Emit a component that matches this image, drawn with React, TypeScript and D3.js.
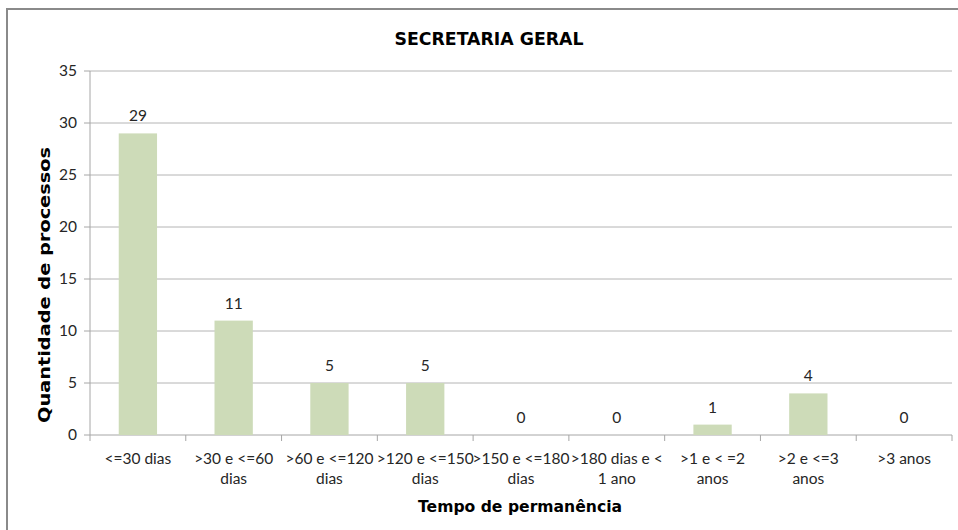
import React from "react";
import * as d3 from "d3";

const categories: string[][] = [
  ["<=30 dias"],
  [">30 e <=60", "dias"],
  [">60 e <=120", "dias"],
  [">120 e <=150", "dias"],
  [">150 e <=180", "dias"],
  [">180 dias e <", "1 ano"],
  [">1 e < =2", "anos"],
  [">2 e <=3", "anos"],
  [">3 anos"],
];
const values: number[] = [29, 11, 5, 5, 0, 0, 1, 4, 0];
const yTicks: number[] = [0, 5, 10, 15, 20, 25, 30, 35];
const title = "SECRETARIA GERAL";
const yTitle = "Quantidade de processos";
const xTitle = "Tempo de permanência";

const W = 958;
const H = 530;
const left = 90;
const right = 952;
const top = 71;
const bottom = 435;

export default function App() {
  const keys = categories.map((_, i) => String(i));
  const x = d3.scaleBand<string>().domain(keys).range([left, right]).paddingInner(0.6).paddingOuter(0.3);
  const xb = d3.scaleBand<string>().domain(keys).range([left, right]);
  const y = d3.scaleLinear().domain([0, 35]).range([bottom, top]);
  const labelFont = "Lato, 'Open Sans', sans-serif";
  const titleFont = "'DejaVu Sans', sans-serif";
  return (
    <svg width={W} height={H} style={{ position: "absolute", left: 0, top: 0, background: "#fff" }}>
      <rect x={7} y={9} width={W} height={H} fill="#fff" stroke="#8a8a8a" strokeWidth={2} />
      <text x={489} y={45} textAnchor="middle" fontFamily={titleFont} fontWeight="bold" fontSize={17} textLength={189} lengthAdjust="spacingAndGlyphs">{title}</text>
      {yTicks.map((t) => (
        <g key={t}>
          <line x1={left} x2={right} y1={y(t)} y2={y(t)} stroke={t === 0 ? "#a6a6a6" : "#b4b4b4"} strokeWidth={1} />
          <line x1={left - 6} x2={left} y1={y(t)} y2={y(t)} stroke="#a6a6a6" />
          <text x={77} y={y(t) + 5} textAnchor="end" fontFamily={labelFont} fontSize={15.5} fill="#262626">{t}</text>
        </g>
      ))}
      <line x1={left} x2={left} y1={top} y2={bottom} stroke="#a6a6a6" />
      {keys.map((k) => (
        <line key={"t" + k} x1={xb(k)!} x2={xb(k)!} y1={bottom} y2={bottom + 6} stroke="#a6a6a6" />
      ))}
      <line x1={right} x2={right} y1={bottom} y2={bottom + 6} stroke="#a6a6a6" />
      {values.map((v, i) => (
        <g key={"b" + i}>
          <rect x={x(String(i))!} y={y(v)} width={x.bandwidth()} height={bottom - y(v)} fill="#cddbb8" />
          <text x={x(String(i))! + x.bandwidth() / 2} y={y(v) - 12} textAnchor="middle" fontFamily={labelFont} fontSize={15.5} fill="#262626">{v}</text>
        </g>
      ))}
      {categories.map((lines, i) => (
        <text key={"c" + i} textAnchor="middle" fontFamily={labelFont} fontSize={15.5} fill="#262626">
          {lines.map((l, j) => (
            <tspan key={j} x={xb(String(i))! + xb.bandwidth() / 2} y={464 + j * 20}>{l}</tspan>
          ))}
        </text>
      ))}
      <text x={520} y={512} textAnchor="middle" fontFamily={titleFont} fontWeight="bold" fontSize={16} textLength={204} lengthAdjust="spacingAndGlyphs">{xTitle}</text>
      <text transform={`translate(50,285) rotate(-90)`} textAnchor="middle" fontFamily={titleFont} fontWeight="bold" fontSize={16.5} textLength={276} lengthAdjust="spacingAndGlyphs">{yTitle}</text>
    </svg>
  );
}
